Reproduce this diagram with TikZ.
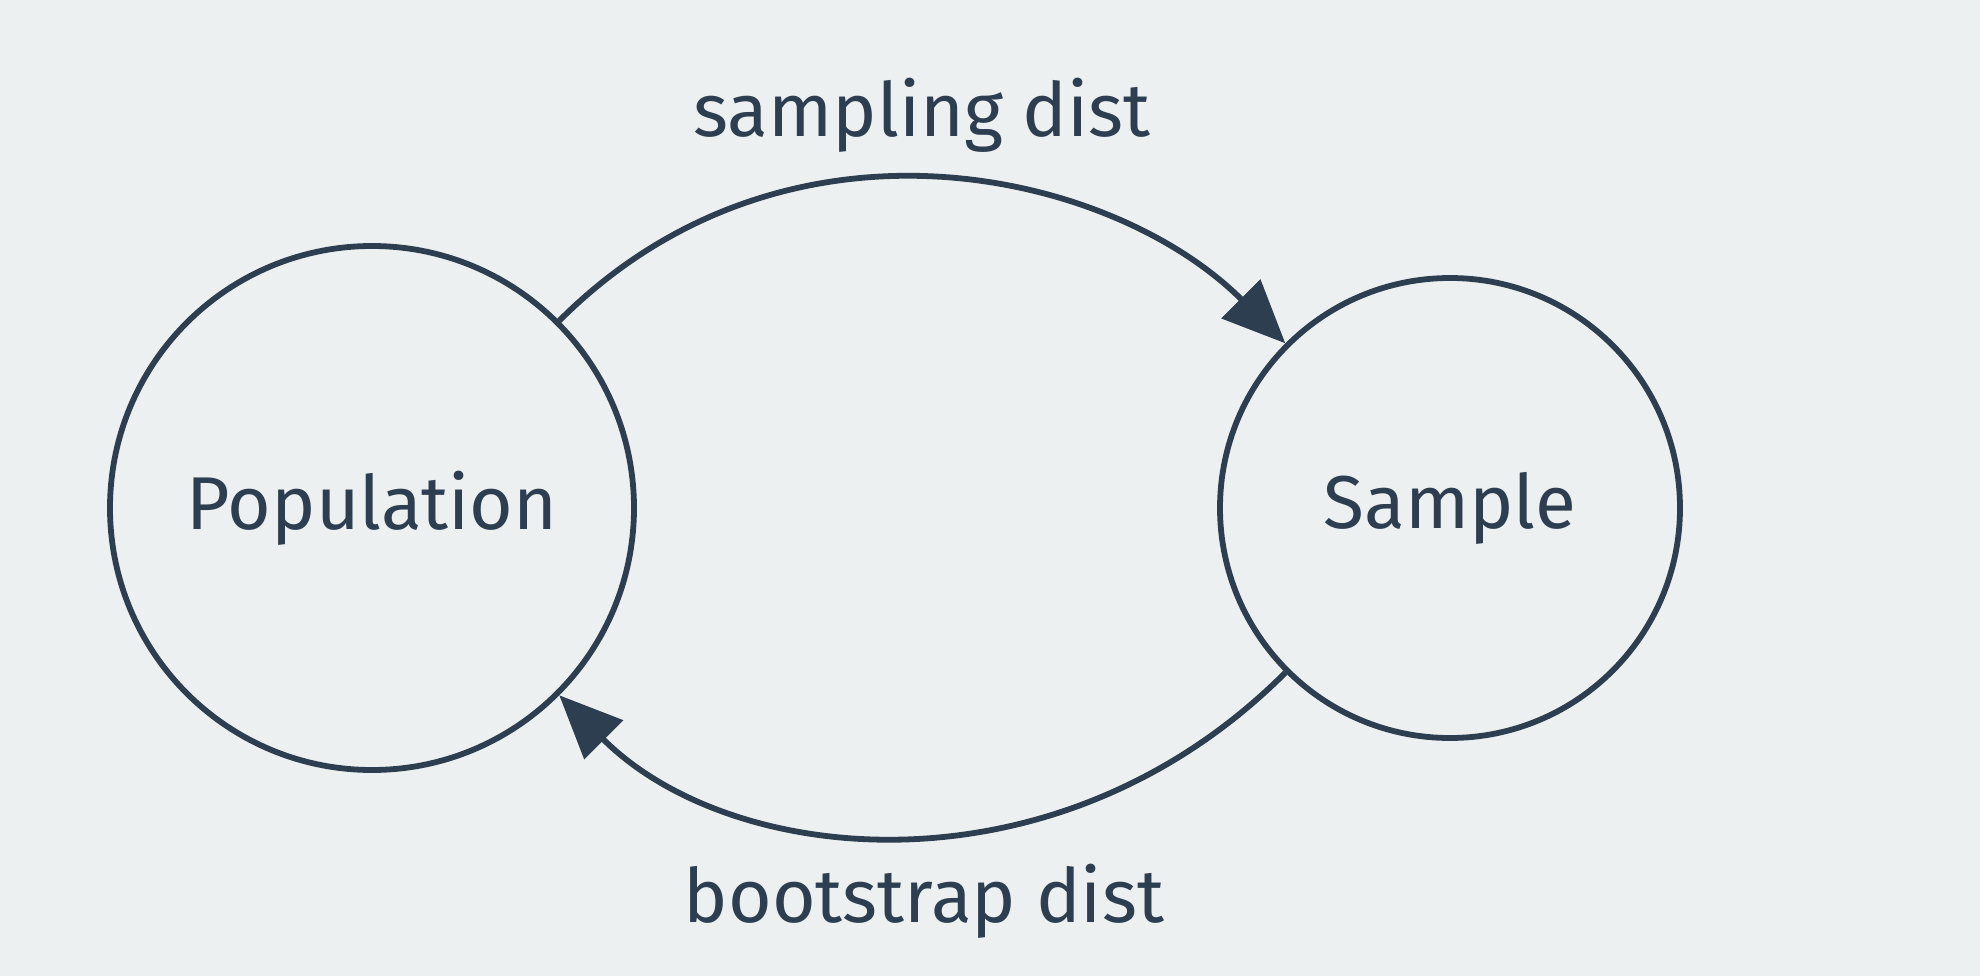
\documentclass[tikz,border=0pt]{standalone}
\usepackage{fontspec}
\setmainfont{Fira Sans}
\usetikzlibrary{arrows.meta}
\definecolor{midnight}{HTML}{2C3E50}
\definecolor{clouds}{HTML}{ECF0F1}

\begin{document}
\begin{tikzpicture}[
  bubble/.style={circle, draw=midnight, line width=1.65pt, text=midnight,
    font=\fontsize{21.3}{25}\selectfont, inner sep=0pt},
  flow/.style={draw=midnight, line width=1.65pt,
    -{Triangle[length=0.63cm,width=0.54cm]}},
  flowlabel/.style={text=midnight, font=\fontsize{21.3}{25}\selectfont, anchor=base}
]
\fill[clouds] (0,0) rectangle (19.8,-9.76);
\useasboundingbox (0,0) rectangle (19.8,-9.76);

% the two sets
\node[bubble, minimum size=5.24cm] (pop) at (3.72,-5.08) {Population};
\node[bubble, minimum size=4.60cm] (samp) at (14.50,-5.08) {Sample};

% arcs between them
\draw[flow] (pop.45) to[out=45,in=135,out looseness=1.13,in looseness=0.86] (samp.135);
\draw[flow] (samp.225) to[out=225,in=-45,out looseness=1.13,in looseness=0.86] (pop.-45);

\node[flowlabel] (samplab) at (9.22,-1.37) {sampling dist};
\node[flowlabel] (bootlab) at (9.24,-9.22) {bootstrap dist};
\end{tikzpicture}
\end{document}
